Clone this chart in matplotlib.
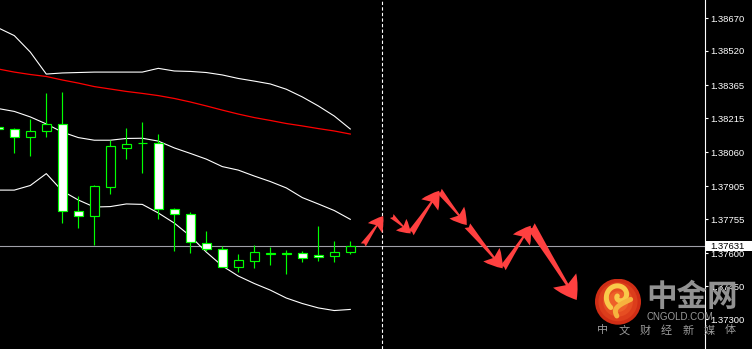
import matplotlib.pyplot as plt
import numpy as np
from matplotlib.patches import Circle, FancyArrowPatch, Rectangle
from matplotlib.transforms import blended_transform_factory

plt.rcParams['font.family'] = ['Liberation Sans', 'DejaVu Sans']

# bougies visibles (la plus ancienne d'abord), indice de barre -1..21
bars = np.arange(-1, 22)
opens = [1.38175, 1.38164, 1.38127, 1.38154, 1.38186, 1.37790, 1.37768, 1.37902,
         1.38080, 1.38100, 1.38100, 1.37800, 1.37777, 1.37645, 1.37618, 1.37539,
         1.37566, 1.37594, 1.37598, 1.37599, 1.37590, 1.37589, 1.37607]
highs = [1.38181, 1.38171, 1.38210, 1.38329, 1.38333, 1.37860, 1.37909, 1.38115,
         1.38168, 1.38197, 1.38142, 1.37807, 1.37786, 1.37701, 1.37633, 1.37598,
         1.37637, 1.37627, 1.37614, 1.37610, 1.37724, 1.37655, 1.37655]
lows = [1.38158, 1.38054, 1.38043, 1.38130, 1.37736, 1.37716, 1.37639, 1.37871,
        1.38030, 1.37966, 1.37757, 1.37611, 1.37602, 1.37611, 1.37536, 1.37514,
        1.37533, 1.37546, 1.37507, 1.37560, 1.37566, 1.37561, 1.37598]
closes = [1.38164, 1.38127, 1.38154, 1.38186, 1.37790, 1.37768, 1.37904, 1.38086,
          1.38095, 1.38101, 1.37800, 1.37777, 1.37649, 1.37619, 1.37539, 1.37568,
          1.37604, 1.37599, 1.37599, 1.37577, 1.37581, 1.37607, 1.37631]

# bandes de Bollinger + moyenne mobile rouge
upper_band = [1.38625, 1.38590, 1.38515, 1.38415, 1.38420, 1.38422, 1.38424, 1.38424,
              1.38424, 1.38424, 1.38441, 1.38429, 1.38427, 1.38422, 1.38411, 1.38395,
              1.38383, 1.38370, 1.38346, 1.38311, 1.38270, 1.38224, 1.38165]
middle_band = [1.38258, 1.38245, 1.38220, 1.38188, 1.38151, 1.38126, 1.38114, 1.38114,
               1.38122, 1.38123, 1.38110, 1.38079, 1.38054, 1.38028, 1.37994, 1.37978,
               1.37951, 1.37926, 1.37897, 1.37853, 1.37824, 1.37794, 1.37754]
lower_band = [1.37887, 1.37887, 1.37908, 1.37962, 1.37883, 1.37842, 1.37810, 1.37812,
              1.37824, 1.37822, 1.37783, 1.37737, 1.37678, 1.37605, 1.37542, 1.37496,
              1.37462, 1.37432, 1.37396, 1.37371, 1.37351, 1.37339, 1.37344]
ma_red = [1.38438, 1.38424, 1.38413, 1.38404, 1.38388, 1.38374, 1.38358, 1.38347,
          1.38336, 1.38327, 1.38317, 1.38304, 1.38288, 1.38270, 1.38251, 1.38233,
          1.38217, 1.38204, 1.38190, 1.38179, 1.38167, 1.38156, 1.38142]

price_ticks = [1.38670, 1.38520, 1.38365, 1.38215, 1.38060,
               1.37905, 1.37755, 1.37600, 1.37450, 1.37300]

# fleches de prevision (barre, prix) debut -> fin
arrow_x0 = [21.81, 23.59, 24.78, 26.56, 28.32, 30.53, 32.28]
arrow_y0 = [1.37637, 1.37769, 1.37690, 1.37884, 1.37725, 1.37531, 1.37725]
arrow_x1 = [23.06, 24.78, 26.56, 28.28, 30.53, 32.28, 35.15]
arrow_y1 = [1.37769, 1.37690, 1.37884, 1.37728, 1.37531, 1.37725, 1.37387]

separator_bar = 23

W, H = 752, 349
fig = plt.figure(figsize=(W / 100, H / 100), dpi=100, facecolor='black')
ax = fig.add_axes([0, 0, 704.5 / W, 1])
ax.set_facecolor('black')
ax.set_xlim(-0.894, 43.14)
ax.set_ylim(1.37164, 1.38752)

green = '#00ff00'
ax.axhline(closes[-1], color='#a0a0a8', lw=0.8, zorder=1)
ax.axvline(separator_bar, color='white', lw=0.8, ls=(0, (3, 2)), zorder=1)

ax.plot(bars, upper_band, color='white', lw=0.8, zorder=2)
ax.plot(bars, middle_band, color='white', lw=0.8, zorder=2)
ax.plot(bars, lower_band, color='white', lw=0.8, zorder=2)
ax.plot(bars, ma_red, color='#ff0000', lw=0.9, zorder=2)

ax.vlines(bars, lows, highs, color=green, lw=0.85, zorder=3)
o = np.array(opens)
c = np.array(closes)
fills = ['black' if cc >= oo else 'white' for oo, cc in zip(o, c)]
ax.bar(bars, c - o, bottom=o, width=0.58, color=fills, edgecolor=green,
       linewidth=0.85, zorder=4)

# tete un peu plus grande pour les fleches longues
for x0, y0, x1, y1 in zip(arrow_x0, arrow_y0, arrow_x1, arrow_y1):
    p0 = ax.transData.transform((x0, y0))
    p1 = ax.transData.transform((x1, y1))
    length_pt = np.hypot(*(p1 - p0)) * 72 / 100
    arr = FancyArrowPatch((x0, y0), (x1, y1),
                          arrowstyle='fancy,head_length=0.32,head_width=0.38,tail_width=0.13',
                          mutation_scale=20 + 0.5 * length_pt, color='#ff4040', lw=0,
                          shrinkA=0, shrinkB=0, zorder=5)
    ax.add_patch(arr)

# axe des prix a droite
ax.set_xticks([])
ax.yaxis.tick_right()
ax.set_yticks(price_ticks)
ax.set_yticklabels([f'{p:.5f}' for p in price_ticks])
ax.tick_params(axis='y', colors='white', length=2.2, width=0.8, pad=2.2,
               labelsize=6.8, labelcolor='white')
for side in ['left', 'top', 'bottom']:
    ax.spines[side].set_visible(False)
ax.spines['right'].set_color('white')
ax.spines['right'].set_linewidth(0.8)

# etiquette du prix courant
trans = blended_transform_factory(ax.transAxes, ax.transData)
box_h = (ax.get_ylim()[1] - ax.get_ylim()[0]) * 10 / H
ax.add_patch(Rectangle((706 / 704.5, closes[-1] - box_h / 2), 46 / 704.5, box_h,
                       transform=trans, facecolor='white', edgecolor='none',
                       clip_on=False, zorder=10))
ax.text(710.5 / 704.5, closes[-1], f'{closes[-1]:.5f}', transform=trans,
        color='black', fontsize=6.8, va='center', ha='left', clip_on=False, zorder=11)

# filigrane
cjk = ['Noto Sans CJK SC', 'DejaVu Sans']
fig.text(692 / W, 1 - 297 / H, '中金网', family=cjk, fontsize=22, fontweight='bold',
         color='#929292', ha='center', va='center', zorder=20)
fig.text(680 / W, 1 - 317 / H, 'CNGOLD.COM', fontsize=7, color='#9a9a9a',
         ha='center', va='center', zorder=20)
for i, ch in enumerate('中文财经新媒体'):
    fig.text((603 + i * 21.2) / W, 1 - 330.5 / H, ch, family=cjk, fontsize=8,
             color='#9a9a9a', ha='center', va='center', zorder=20)

logo = fig.add_axes([595 / W, 1 - 324.7 / H, 46 / W, 46 / H])
logo.set_xlim(-1, 1)
logo.set_ylim(-1, 1)
logo.set_aspect('equal')
logo.axis('off')
for r, col in [(1.0, '#cf2d15'), (0.85, '#dc3d1b'), (0.65, '#e64e22'), (0.45, '#ee6029')]:
    logo.add_patch(Circle((0, 0), r, color=col, lw=0))
t = np.linspace(0, 2.3 * np.pi, 80)
rr = 0.08 + 0.075 * t
sx = 0.05 + rr * np.cos(t + np.pi)
sy = 0.25 + rr * np.sin(t + np.pi)
logo.plot(sx, sy, color='#f9c94a', lw=3.6, solid_capstyle='round')
tail = np.linspace(0, 1, 30)
logo.plot(0.55 - 0.6 * tail - 0.3 * np.sin(np.pi * tail),
          0.1 - 0.72 * tail, color='#f6b23e', lw=3.6, solid_capstyle='round')

plt.savefig('out.png', dpi=100, facecolor='black')
